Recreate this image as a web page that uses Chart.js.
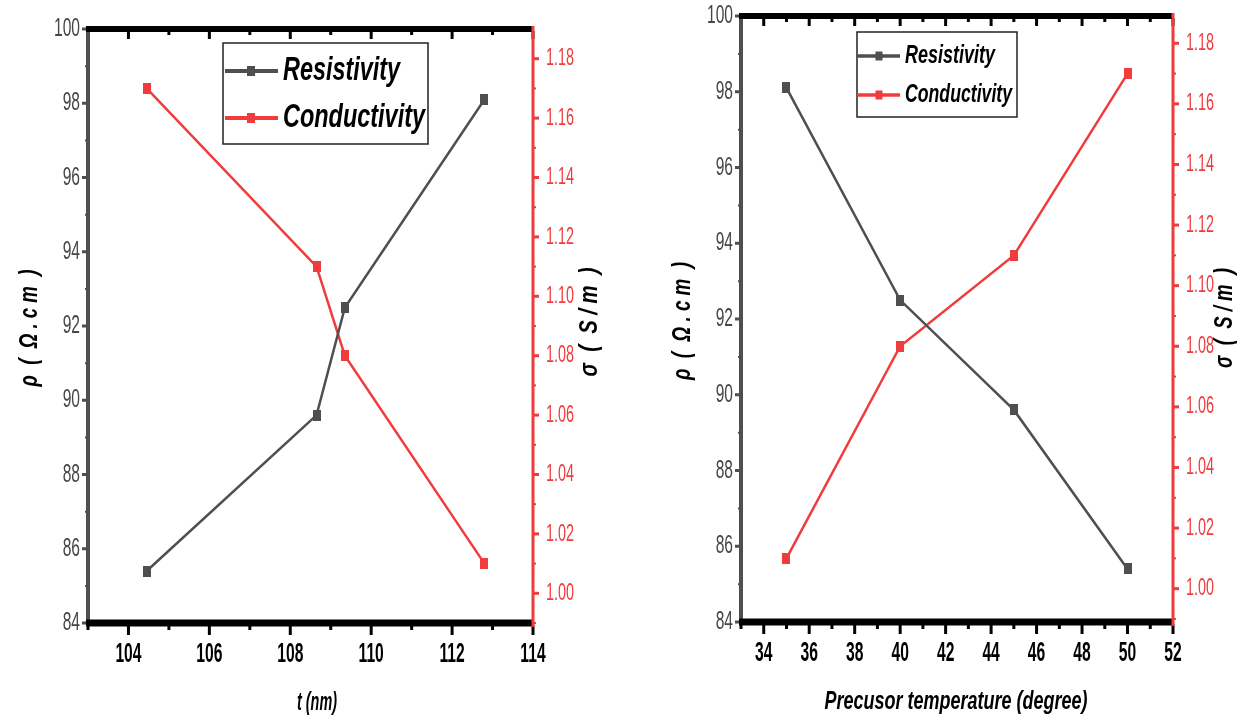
<!DOCTYPE html>
<html>
<head>
<meta charset="utf-8">
<title>Resistivity / Conductivity</title>
<script src="https://cdn.jsdelivr.net/npm/chart.js@4.4.0/dist/chart.umd.min.js"></script>
<style>
  html, body { margin: 0; padding: 0; background: #fff; }
  .panel { position: absolute; top: 0; height: 719px; }
  #p1 { left: 0; width: 620px; }
  #p2 { left: 620px; width: 619px; }
</style>
</head>
<body>
<div class="panel" id="p1"><canvas id="chartThick"></canvas></div>
<div class="panel" id="p2"><canvas id="chartTemp"></canvas></div>
<script>
// ── Datos ───────────────────────────────
const THICKNESS   = [104.45, 108.65, 109.35, 112.8];
const RES_BY_T    = [85.4, 89.6, 92.5, 98.1];
const CON_BY_T    = [1.17, 1.11, 1.08, 1.01];

const TEMPS       = [35, 40, 45, 50];
const RES_BY_TEMP = [98.1, 92.5, 89.6, 85.4];
const CON_BY_TEMP = [1.01, 1.08, 1.11, 1.17];

const T_TICKS     = [104, 106, 108, 110, 112, 114];
const TEMP_TICKS  = [34, 36, 38, 40, 42, 44, 46, 48, 50, 52];
const RHO_TICKS   = [84, 86, 88, 90, 92, 94, 96, 98, 100];
const SIGMA_TICKS = [1.00, 1.02, 1.04, 1.06, 1.08, 1.10, 1.12, 1.14, 1.16, 1.18];

const GRAY = '#4f4f4f';
const RED  = '#f03c3c';
const FONT = '"Liberation Sans", Arial, sans-serif';

// ── Utilidades ──────────────────────────
function rectMarker(color, w, h) {
  const c = document.createElement('canvas');
  c.width = w; c.height = h;
  const g = c.getContext('2d');
  g.fillStyle = color;
  g.fillRect(0, 0, w, h);
  return c;
}

// texto estrecho (tipo Arial Narrow): escala horizontal o ajuste a un ancho
function narrowText(ctx, text, x, y, o) {
  ctx.save();
  ctx.font = o.font;
  ctx.fillStyle = o.color || '#000';
  ctx.textAlign = o.align || 'center';
  ctx.textBaseline = 'middle';
  ctx.translate(x, y);
  if (o.rot) ctx.rotate(o.rot);
  let sx = o.sx || 1;
  if (o.width) sx = o.width / ctx.measureText(text).width;
  ctx.scale(sx, 1);
  ctx.fillText(text, 0, 0);
  ctx.restore();
}

function line(ctx, x1, y1, x2, y2, color, w) {
  ctx.beginPath();
  ctx.strokeStyle = color;
  ctx.lineWidth = w;
  ctx.moveTo(x1, y1);
  ctx.lineTo(x2, y2);
  ctx.stroke();
}

const minorsOf = (ticks, lo, hi) => {
  const half = (ticks[1] - ticks[0]) / 2;
  return ticks.map(t => t - half).filter(v => v >= lo - 1e-9 && v <= hi + 1e-9);
};

// ════════════════════════════════════════
//  Ejes estilo Origin (dibujados con las escalas de Chart.js)
// ════════════════════════════════════════
function originAxes(spec) {
  return {
    id: 'originAxes',
    afterDatasetsDraw(chart) {
      const { ctx, chartArea: a, scales: { x, y, y2 } } = chart;
      ctx.save();
      ctx.lineCap = 'butt';

      // ticks inferiores / superiores
      const xMin = minorsOf(spec.xTicks, x.min, x.max);
      spec.xTicks.forEach(v => {
        const px = x.getPixelForValue(v);
        line(ctx, px, a.bottom + 2, px, a.bottom + 12, '#000', 3);
        line(ctx, px, a.top + 2, px, a.top + 10, '#000', 3);
      });
      xMin.forEach(v => {
        const px = x.getPixelForValue(v);
        line(ctx, px, a.bottom + 2, px, a.bottom + 7, '#000', 3);
        line(ctx, px, a.top + 2, px, a.top + 6, '#000', 3);
      });

      // eje izquierdo (gris)
      line(ctx, a.left, a.top, a.left, a.bottom + 3, GRAY, 4);
      spec.yTicks.forEach(v => {
        const py = y.getPixelForValue(v);
        line(ctx, a.left - 1, py, a.left - 6, py, GRAY, 3);
      });
      minorsOf(spec.yTicks, y.min, y.max).forEach(v => {
        const py = y.getPixelForValue(v);
        line(ctx, a.left - 1, py, a.left - 3, py, GRAY, 2);
      });

      // ejes negros arriba y abajo
      line(ctx, a.left - 2, a.bottom, a.right, a.bottom, '#000', 7);
      line(ctx, a.left - 2, a.top, a.right, a.top, '#000', 6);

      // eje derecho (rojo)
      line(ctx, a.right, a.top - 3, a.right, a.bottom + 4, RED, 3);
      spec.y2Ticks.forEach(v => {
        const py = y2.getPixelForValue(v);
        line(ctx, a.right, py, a.right + 6, py, RED, 3);
      });
      minorsOf(spec.y2Ticks, y2.min, y2.max).forEach(v => {
        const py = y2.getPixelForValue(v);
        line(ctx, a.right, py, a.right + 3, py, RED, 2);
      });

      // etiquetas
      spec.xTicks.forEach(v => narrowText(ctx, String(v), x.getPixelForValue(v), a.bottom + 32,
        { font: 'bold 27px ' + FONT, sx: 0.58 }));
      spec.yTicks.forEach(v => narrowText(ctx, String(v), a.left - 8, y.getPixelForValue(v),
        { font: '26px ' + FONT, sx: 0.6, align: 'right', color: '#474747' }));
      spec.y2Ticks.forEach(v => narrowText(ctx, v.toFixed(2), a.right + 13, y2.getPixelForValue(v),
        { font: '24px ' + FONT, sx: 0.6, align: 'left', color: RED }));

      // títulos de ejes
      const tf = 'italic bold 26px ' + FONT;
      narrowText(ctx, spec.xTitle, spec.xTitlePos[0], spec.xTitlePos[1], { font: tf, width: spec.xTitlePos[2] });
      narrowText(ctx, '\u03C1  (  \u03A9 . c m  )', spec.yTitlePos[0], spec.yTitlePos[1],
        { font: tf, width: spec.yTitlePos[2], rot: -Math.PI / 2 });
      narrowText(ctx, '\u03C3  (  S / m  )', spec.y2TitlePos[0], spec.y2TitlePos[1],
        { font: tf, width: spec.y2TitlePos[2], rot: -Math.PI / 2 });

      // leyenda
      const L = spec.legend;
      ctx.fillStyle = '#fff';
      ctx.fillRect(L.box[0], L.box[1], L.box[2] - L.box[0], L.box[3] - L.box[1]);
      ctx.strokeStyle = '#222';
      ctx.lineWidth = 1.5;
      ctx.strokeRect(L.box[0], L.box[1], L.box[2] - L.box[0], L.box[3] - L.box[1]);
      chart.data.datasets.forEach((ds, i) => {
        const ry = L.rows[i];
        line(ctx, L.line[0], ry, L.line[1], ry, ds.borderColor, L.lw);
        ctx.fillStyle = ds.borderColor;
        ctx.fillRect(L.mark - L.mw / 2, ry - L.mh / 2, L.mw, L.mh);
        narrowText(ctx, ds.label, L.tx, ry, { font: L.font, width: L.widths[i], align: 'left' });
      });

      ctx.restore();
    }
  };
}

function buildChart(canvasId, xs, res, con, xMin, xMax, y2Min, y2Max, padding, spec) {
  const ctx = document.getElementById(canvasId).getContext('2d');
  return new Chart(ctx, {
    type: 'line',
    data: {
      datasets: [
        {
          label: 'Resistivity',
          data: xs.map((v, i) => ({ x: v, y: res[i] })),
          borderColor: GRAY,
          borderWidth: 2.5,
          pointStyle: rectMarker(GRAY, 8, 11),
          pointRadius: 6,
          yAxisID: 'y'
        },
        {
          label: 'Conductivity',
          data: xs.map((v, i) => ({ x: v, y: con[i] })),
          borderColor: RED,
          borderWidth: 2.5,
          pointStyle: rectMarker(RED, 8, 11),
          pointRadius: 6,
          yAxisID: 'y2'
        }
      ]
    },
    options: {
      responsive: true,
      maintainAspectRatio: false,
      animation: false,
      layout: { padding },
      plugins: { legend: { display: false }, tooltip: { enabled: false } },
      scales: {
        x:  { type: 'linear', min: xMin, max: xMax, display: false },
        y:  { min: 84, max: 100, display: false },
        y2: { min: y2Min, max: y2Max, position: 'right', display: false }
      }
    },
    plugins: [originAxes(spec)]
  });
}

// ════════════════════════════════════════
//  PANEL 1 — espesor t (nm)
// ════════════════════════════════════════
buildChart('chartThick', THICKNESS, RES_BY_T, CON_BY_T, 103, 114, 0.99, 1.19,
  { left: 88, right: 87, top: 29, bottom: 96 },
  {
    xTicks: T_TICKS, yTicks: RHO_TICKS, y2Ticks: SIGMA_TICKS,
    xTitle: 't (nm)', xTitlePos: [317, 703, 40],
    yTitlePos: [30, 328, 117],
    y2TitlePos: [590, 322, 109],
    legend: {
      box: [223, 43, 428, 144], line: [225, 278], mark: 251, lw: 4, mw: 8, mh: 10,
      rows: [71, 118], tx: 283, widths: [117, 142], font: 'italic bold 33px ' + FONT
    }
  });

// ════════════════════════════════════════
//  PANEL 2 — temperatura del precursor
// ════════════════════════════════════════
buildChart('chartTemp', TEMPS, RES_BY_TEMP, CON_BY_TEMP, 33, 52, 0.989, 1.189,
  { left: 121, right: 66, top: 16, bottom: 97 },
  {
    xTicks: TEMP_TICKS, yTicks: RHO_TICKS, y2Ticks: SIGMA_TICKS,
    xTitle: 'Precusor temperature (degree)', xTitlePos: [336, 702, 263],
    yTitlePos: [63, 321, 118],
    y2TitlePos: [605, 318, 100],
    legend: {
      box: [237, 32, 397, 117], line: [237, 280], mark: 259, lw: 3.5, mw: 7, mh: 9,
      rows: [56, 95], tx: 285, widths: [90, 107], font: 'italic bold 26px ' + FONT
    }
  });
</script>
</body>
</html>
